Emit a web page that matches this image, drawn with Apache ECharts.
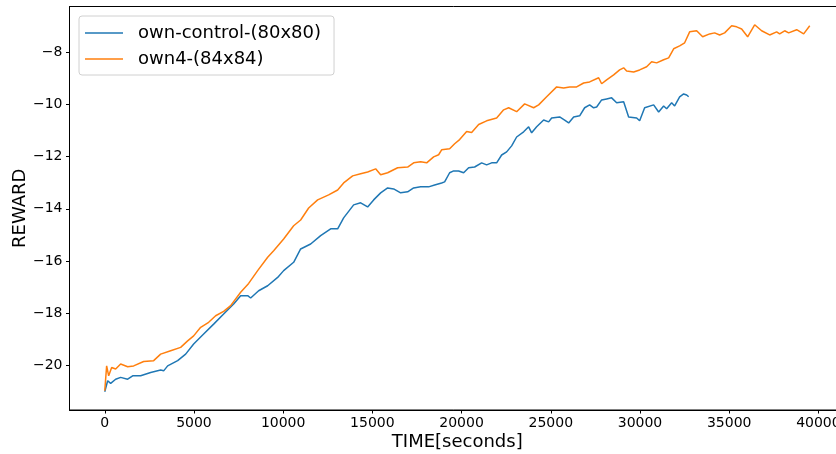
<!DOCTYPE html>
<html>
<head>
<meta charset="utf-8">
<script src="https://cdn.jsdelivr.net/npm/echarts@6/dist/echarts.min.js"></script>
<style>html,body{margin:0;padding:0;background:#fff}#c{width:836px;height:454px}</style>
</head>
<body>
<div id="c"></div>
<script>
// ---- data ----
const seriesNames = ['own-control-(80x80)', 'own4-(84x84)'];
const xTicks = [0, 5000, 10000, 15000, 20000, 25000, 30000, 35000, 40000];
const yTicks = [-20, -18, -16, -14, -12, -10, -8];

const blueTime = [0,163,331,611,891,1284,1564,2012,2573,3133,3301,3526,4086,4534,4983,5543,6104,6664,7225,7617,8010,8178,8626,9131,9691,10027,10588,10980,11541,12101,12662,13054,13390,13951,14343,14735,15072,15464,15856,16193,16585,16977,17313,17706,18154,18490,18882,19050,19331,19555,19835,20116,20396,20732,21125,21405,21685,21965,22246,22526,22806,23086,23479,23759,23927,24208,24600,24880,25049,25497,25777,26002,26282,26618,26898,27178,27403,27571,27851,28131,28411,28692,29084,29364,29813,29981,30261,30766,31046,31326,31494,31775,31943,32223,32447,32616,32728];
const blueReward = [-21.01,-20.59,-20.69,-20.53,-20.46,-20.53,-20.40,-20.40,-20.27,-20.18,-20.21,-20.02,-19.82,-19.57,-19.18,-18.80,-18.42,-18.03,-17.65,-17.33,-17.33,-17.42,-17.14,-16.95,-16.63,-16.37,-16.05,-15.54,-15.35,-15.03,-14.77,-14.77,-14.35,-13.85,-13.77,-13.93,-13.66,-13.39,-13.20,-13.24,-13.39,-13.35,-13.20,-13.16,-13.16,-13.09,-13.01,-12.97,-12.62,-12.55,-12.55,-12.62,-12.43,-12.40,-12.24,-12.32,-12.24,-12.24,-11.94,-11.82,-11.59,-11.25,-11.05,-10.86,-11.09,-10.86,-10.60,-10.67,-10.52,-10.48,-10.60,-10.71,-10.48,-10.44,-10.13,-10.02,-10.13,-10.10,-9.83,-9.79,-9.75,-9.94,-9.90,-10.48,-10.52,-10.63,-10.13,-10.02,-10.29,-10.06,-10.17,-9.94,-10.06,-9.71,-9.60,-9.64,-9.71];

const orangeTime = [0,106,219,387,611,891,1284,1620,2180,2741,3133,3694,4254,4646,4983,5375,5824,6216,6664,7057,7617,8066,8570,9131,9467,10027,10588,10980,11429,11933,12550,13054,13390,13895,14343,14735,15184,15464,15856,16417,16977,17313,17706,18042,18434,18714,18882,19331,19611,19891,20284,20564,20957,21405,21965,22358,22638,23086,23535,24039,24320,24768,25329,25721,26057,26450,26842,27178,27683,27851,28131,28524,28860,29084,29252,29645,29981,30373,30653,30934,31326,31606,31887,32223,32503,32784,33176,33512,33905,34185,34465,34745,35138,35418,35698,36034,36146,36427,36819,37268,37660,37828,38109,38333,38782,39174,39515];
const orangeReward = [-20.97,-20.02,-20.40,-20.08,-20.14,-19.95,-20.05,-20.02,-19.85,-19.82,-19.57,-19.44,-19.31,-19.06,-18.87,-18.54,-18.35,-18.10,-17.93,-17.71,-17.20,-16.86,-16.37,-15.86,-15.61,-15.16,-14.65,-14.43,-13.97,-13.66,-13.47,-13.28,-13.01,-12.74,-12.66,-12.59,-12.47,-12.70,-12.62,-12.43,-12.40,-12.24,-12.20,-12.24,-12.01,-11.93,-11.74,-11.70,-11.51,-11.35,-11.04,-11.08,-10.77,-10.63,-10.52,-10.21,-10.13,-10.28,-9.98,-10.13,-10.02,-9.71,-9.33,-9.37,-9.33,-9.33,-9.18,-9.14,-8.98,-9.21,-9.06,-8.87,-8.68,-8.60,-8.72,-8.76,-8.68,-8.56,-8.37,-8.41,-8.29,-8.22,-7.87,-7.76,-7.64,-7.22,-7.18,-7.41,-7.30,-7.26,-7.34,-7.26,-6.99,-7.03,-7.11,-7.41,-7.37,-6.95,-7.18,-7.34,-7.22,-7.30,-7.18,-7.26,-7.14,-7.30,-6.99];

const zip = (a, b) => a.map((v, i) => [v, b[i]]);
const FONT = 'DejaVu Sans';
const minusFmt = v => String(v).replace('-', '\u2212');

const chart = echarts.init(document.getElementById('c'), null, {renderer: 'canvas'});
chart.setOption({
  animation: false,
  backgroundColor: '#fff',
  grid: {left: 69.5, right: -9, top: 6.5, bottom: 44, containLabel: false, outerBoundsMode: 'none',
         show: true, borderColor: '#000', borderWidth: 1, backgroundColor: 'transparent'},
  legend: {
    orient: 'vertical', left: 79, top: 16,
    padding: [5, 13, 4, 6], itemGap: 2, itemWidth: 38, itemHeight: 1.5, icon: 'rect',
    borderColor: '#d0d0d0', borderWidth: 1, borderRadius: 3, backgroundColor: '#fff',
    textStyle: {fontFamily: FONT, fontSize: 18, lineHeight: 24, color: '#000', padding: [0, 0, 0, 10]},
    data: seriesNames
  },
  xAxis: {
    type: 'value', min: -1976, max: 41491,
    name: 'TIME[seconds]', nameLocation: 'middle', nameGap: 23, nameMoveOverlap: false,
    nameTextStyle: {fontFamily: FONT, fontSize: 18, color: '#000'},
    splitLine: {show: false},
    axisLine: {onZero: false, lineStyle: {color: '#000', width: 1}},
    axisTick: {customValues: xTicks, length: 3.5, lineStyle: {color: '#000'}},
    axisLabel: {customValues: xTicks, margin: 6, fontFamily: FONT, fontSize: 14, color: '#000', formatter: minusFmt}
  },
  yAxis: {
    type: 'value', min: -21.71, max: -6.25,
    name: 'REWARD', nameLocation: 'middle', nameGap: 40, nameMoveOverlap: false,
    nameTextStyle: {fontFamily: FONT, fontSize: 18, color: '#000'},
    splitLine: {show: false},
    axisLine: {show: true, onZero: false, lineStyle: {color: '#000', width: 1}},
    axisTick: {show: true, customValues: yTicks, length: 3.5, lineStyle: {color: '#000'}},
    axisLabel: {customValues: yTicks, margin: 7, fontFamily: FONT, fontSize: 14, color: '#000', formatter: minusFmt}
  },
  series: [
    {name: seriesNames[0], type: 'line', data: zip(blueTime, blueReward), symbol: 'none', showSymbol: false,
     lineStyle: {color: '#1f77b4', width: 1.5}, itemStyle: {color: '#1f77b4'}},
    {name: seriesNames[1], type: 'line', data: zip(orangeTime, orangeReward), symbol: 'none', showSymbol: false,
     lineStyle: {color: '#ff7f0e', width: 1.5}, itemStyle: {color: '#ff7f0e'}}
  ]
});
</script>
</body>
</html>
